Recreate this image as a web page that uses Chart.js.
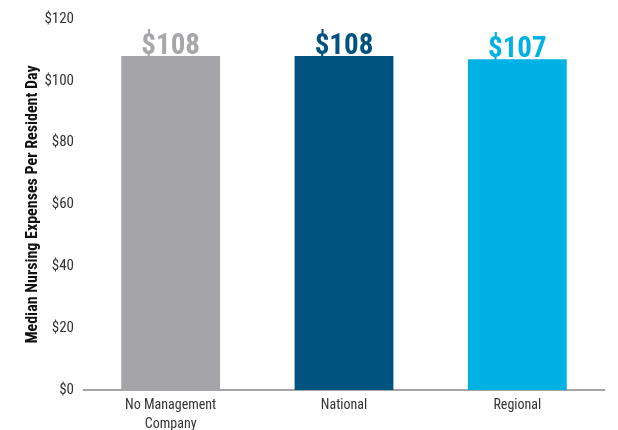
<!DOCTYPE html>
<html>
<head>
<meta charset="utf-8">
<script src="https://cdn.jsdelivr.net/npm/chart.js@4"></script>
<style>
  html, body { margin: 0; padding: 0; background: #fff; }
  #wrap { width: 618px; height: 430px; }
</style>
</head>
<body>
<div id="wrap"><canvas id="c"></canvas></div>
<script>
// data
const categories = [["No Management", "Company"], "National", "Regional"];
const values = [108, 108, 107];
const barColors = ["#a5a4a8", "#00527f", "#00b2e3"];
const labelColors = ["#a7a6aa", "#00527f", "#00b2e3"];
const yTitle = "Median Nursing Expenses Per Resident Day";

const FONT = "'Roboto Condensed', 'Liberation Sans', Arial, sans-serif";

// draws "$108" etc above each bar
const valueLabels = {
  id: "valueLabels",
  afterDatasetsDraw(chart) {
    const ctx = chart.ctx;
    const meta = chart.getDatasetMeta(0);
    ctx.save();
    ctx.font = "bold 29px " + FONT;
    ctx.textAlign = "center";
    ctx.textBaseline = "alphabetic";
    meta.data.forEach((bar, i) => {
      ctx.fillStyle = labelColors[i];
      ctx.fillText("$" + values[i], bar.x, bar.y - 2);
    });
    ctx.restore();
  }
};

new Chart(document.getElementById("c"), {
  type: "bar",
  data: {
    labels: categories,
    datasets: [{
      data: values,
      backgroundColor: barColors,
      barPercentage: 0.57,
      categoryPercentage: 1
    }]
  },
  options: {
    responsive: true,
    maintainAspectRatio: false,
    animation: false,
    layout: { padding: { top: 16, right: 14, bottom: 0, left: 0 } },
    plugins: {
      legend: { display: false },
      tooltip: { enabled: false }
    },
    scales: {
      x: {
        grid: { display: false, drawTicks: false },
        border: { display: true, color: "#a5a4a8", width: 2 },
        ticks: {
          color: "#333",
          font: { family: FONT, size: 14, lineHeight: 1.35 },
          padding: 6,
          maxRotation: 0
        },
        afterFit(scale) { scale.height = 40; }
      },
      y: {
        min: 0,
        max: 120,
        grid: { display: false, drawTicks: false },
        border: { display: false },
        ticks: {
          stepSize: 20,
          color: "#333",
          font: { family: FONT, size: 15 },
          padding: 10,
          callback: (v) => "$" + v
        },
        title: {
          display: true,
          text: yTitle,
          color: "#111",
          font: { family: FONT, size: 16, weight: "bold" },
          padding: { top: 23, bottom: 0 }
        },
        afterFit(scale) { scale.width = 84; }
      }
    }
  },
  plugins: [valueLabels]
});
</script>
</body>
</html>
